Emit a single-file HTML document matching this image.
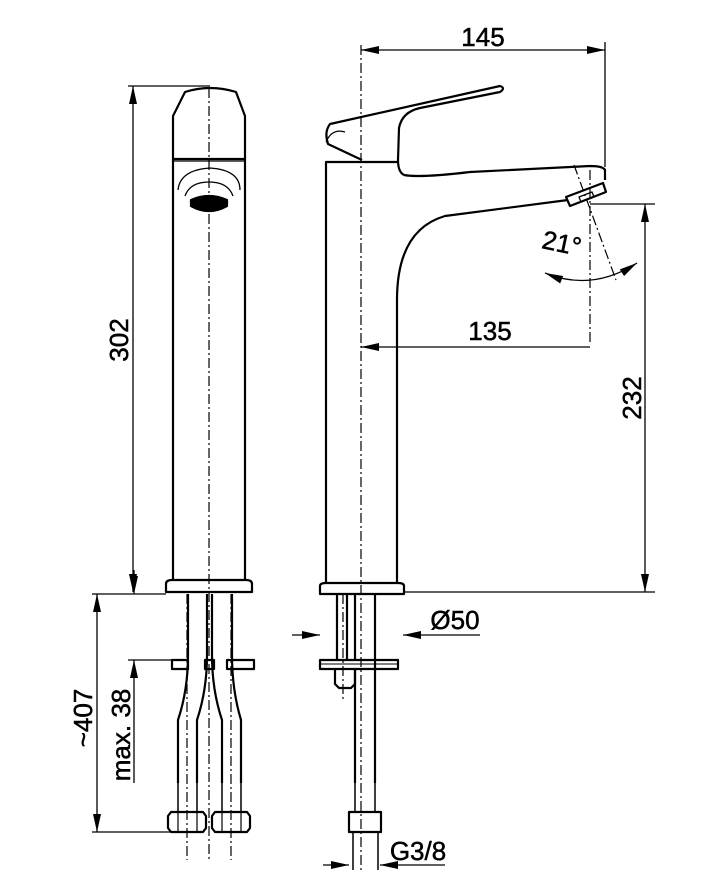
<!DOCTYPE html>
<html><head><meta charset="utf-8"><style>
html,body{margin:0;padding:0;background:#fff;}
svg{display:block}
text{font-family:"Liberation Sans",Arial,sans-serif;font-size:26px;fill:#000;stroke:#000;stroke-width:0.5}
</style></head><body>
<svg width="722" height="891" viewBox="0 0 722 891" xmlns="http://www.w3.org/2000/svg">
<defs>
<marker id="a" viewBox="0 0 18 8" refX="18" refY="4" markerWidth="18" markerHeight="8" orient="auto-start-reverse" markerUnits="userSpaceOnUse"><path d="M0,0 L18,4 L0,8z" fill="#000" stroke="none"/></marker>
</defs>
<g fill="none" stroke="#000" stroke-width="2.2" stroke-linejoin="round">
<!-- LEFT VIEW -->
<path d="M173,580 V116 L185,92 Q210,84 236,92 L245,116 V580"/>
<line x1="173" y1="159" x2="245" y2="159"/>
<line x1="173" y1="161" x2="245" y2="161" stroke-width="1.2"/>
<path d="M178,190 Q180,170 210,168 Q240,170 240,190" stroke-width="1.3"/>
<path d="M185,196 Q190,182 209,182 Q228,182 233,196" stroke-width="1.3"/>
<path d="M191,200 L191,206 Q209,216 227,206 L227,200 Q209,192 191,200z" fill="#000"/>
<path d="M166,592 V584 Q166,580 172,580 H246 Q252,580 252,584 V592 Z"/>
<!-- left pipes -->
<path d="M188,594 V655 Q188,690 178,720 V783 M207,594 V655 Q207,690 197,720 V783"/>
<path d="M212,594 V655 Q212,690 222,720 V783 M232,594 V655 Q232,690 241,720 V783"/>
<rect x="172" y="660" width="16" height="9"/><rect x="227" y="660" width="27" height="9"/><rect x="205" y="660" width="9" height="9"/>
<path d="M178,783 V812 M197,783 V812 M222,783 V812 M241,783 V812" stroke-width="1.5"/>
<path d="M168,816 L171,812 H203 L206,816 V828 L203,832 H171 L168,828Z"/>
<path d="M212,816 L215,812 H247 L250,816 V828 L247,832 H215 L212,828Z"/>
<path d="M178,812V832M197,812V832M222,812V832M241,812V832" stroke-width="1.2"/>
<!-- RIGHT VIEW -->
<path d="M326,583 V162 H397"/>
<path d="M397,583 V300 Q397,230 445,216 L568,200"/>
<path d="M404,175 Q398,172 398,160 L399,128 Q402,112 420,108 L500,92 Q506,88 500,86 L330,124 Q324,132 328,144 L362,160" />
<path d="M326,142 Q332,128 345,132" stroke-width="1.2"/>
<path d="M404,175 Q420,178 470,172 L590,166 Q603,166 605,170 L605,180"/>
<path d="M566,197 L603,183 L606,192 L570,206 Z"/>
<path d="M579,197 L592,192 L594,197 L581,202Z" stroke-width="1.3"/>
<path d="M320,594 V586 Q320,583 326,583 H398 Q404,583 404,586 V594 Z"/>
<!-- right shank -->
<path d="M337,594 V660 M347,594 V660 M355,594 V660 M375,594 V783 M355,669 V783"/>
<rect x="320" y="660" width="78" height="9"/>
<line x1="320" y1="664" x2="398" y2="664" stroke-width="1"/>
<path d="M335,669 V684 L339,688 H351 L355,684 V669" />
<path d="M355,783 V812 M375,783 V812" stroke-width="1.5"/>
<path d="M349,812 H381 V832 H349 Z"/>
<path d="M353,832 V870 M378,832 V870" stroke-width="1.5"/>
</g>
<!-- centerlines -->
<g stroke="#000" stroke-width="1.2" fill="none" stroke-dasharray="10,3,2,3">
<line x1="209" y1="88" x2="209" y2="860"/>
<line x1="187" y1="594" x2="187" y2="860"/>
<line x1="231" y1="594" x2="231" y2="860"/>
<line x1="361" y1="45" x2="361" y2="870"/>
<line x1="343" y1="594" x2="343" y2="700"/>
<line x1="590" y1="170" x2="590" y2="345"/>
<line x1="574" y1="165" x2="616" y2="280"/>
</g>
<!-- dims -->
<g stroke="#000" stroke-width="1.3" fill="none">
<line x1="128" y1="86" x2="210" y2="86"/>
<line x1="133" y1="86" x2="133" y2="592" marker-start="url(#a)" marker-end="url(#a)"/>
<line x1="92" y1="594" x2="166" y2="594"/>
<line x1="97" y1="594" x2="97" y2="832" marker-start="url(#a)" marker-end="url(#a)"/>
<line x1="92" y1="832" x2="170" y2="832"/>
<line x1="134" y1="570" x2="134" y2="594" marker-end="url(#a)"/>
<line x1="134" y1="783" x2="134" y2="660" marker-end="url(#a)"/>
<line x1="128" y1="660" x2="175" y2="660"/>
<line x1="361" y1="50" x2="605" y2="50" marker-start="url(#a)" marker-end="url(#a)"/>
<line x1="605" y1="42" x2="605" y2="167"/>
<line x1="590" y1="347" x2="361" y2="347" marker-end="url(#a)"/>
<line x1="590" y1="204" x2="655" y2="204"/>
<line x1="404" y1="592" x2="655" y2="592"/>
<line x1="645" y1="204" x2="645" y2="592" marker-start="url(#a)" marker-end="url(#a)"/>
<path d="M545,273 Q592,292 637,263" marker-start="url(#a)" marker-end="url(#a)"/>
<line x1="292" y1="635" x2="320" y2="635" marker-end="url(#a)"/>
<line x1="480" y1="635" x2="403" y2="635" marker-end="url(#a)"/>
<line x1="323" y1="865" x2="349" y2="865" marker-end="url(#a)"/>
<line x1="445" y1="865" x2="380" y2="865" marker-end="url(#a)"/>
</g>
<text x="483" y="46" text-anchor="middle">145</text>
<text x="490" y="340" text-anchor="middle">135</text>
<text transform="translate(128,340) rotate(-90)" text-anchor="middle">302</text>
<text transform="translate(641,398) rotate(-90)" text-anchor="middle">232</text>
<text transform="translate(92,718) rotate(-90)" text-anchor="middle">~407</text>
<text transform="translate(130,735) rotate(-90)" text-anchor="middle">max. 38</text>
<text transform="translate(560,252) rotate(12)" text-anchor="middle">21°</text>
<text x="455" y="629" text-anchor="middle">Ø50</text>
<text x="418" y="860" text-anchor="middle">G3/8</text>
</svg>
</body></html>
